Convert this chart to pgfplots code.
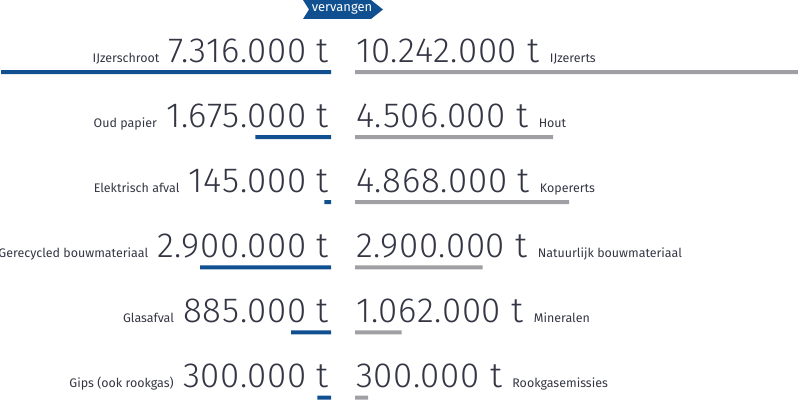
\documentclass[border=0pt]{standalone}
\usepackage{pgfplots}
\pgfplotsset{compat=1.18}
\usepackage{fontspec}
\setmainfont{Fira Sans}[UprightFont={* Light}]
\newfontfamily\bignum{Fira Sans}[UprightFont={* Light}, LetterSpace=2]
\newfontfamily\lbl{Fira Sans}
\definecolor{barBlue}{RGB}{16,80,145}
\definecolor{barGray}{RGB}{160,160,164}
\definecolor{txt}{RGB}{52,54,68}
\begin{document}
\begin{tikzpicture}[x=1bp,y=1bp]
\useasboundingbox (0,0) rectangle (798,400);
\pgfplotsset{
    every axis/.append style={
        hide axis,
        scale only axis,
        height=400bp,
        y dir=reverse,
        ymin=-0.106, ymax=6.038,
        xmin=0,
        xbar,
        bar width=4bp,
    },
}
% left: what is used (blue, growing to the left)
\begin{axis}[name=L, at={(0,0)}, anchor=south west, width=331bp, x dir=reverse, xmax=7.34]
    \addplot[draw=none, fill=barBlue] coordinates {
        (7.316,1) (1.675,2) (0.145,3) (2.900,4) (0.885,5) (0.300,6)
    };
\end{axis}
% right: what it replaces (gray, growing to the right)
\begin{axis}[name=R, at={(355bp,0)}, anchor=south west, width=443bp, xmax=10.07]
    \addplot[draw=none, fill=barGray] coordinates {
        (10.242,1) (4.506,2) (4.868,3) (2.900,4) (1.062,5) (0.300,6)
    };
\end{axis}
% text
\begin{scope}[txt]
\foreach \i/\num/\lab [evaluate=\i as \yy using {400-(72+65.1*(\i-1))+10}] in {
    1/7.316.000 t/IJzerschroot,
    2/1.675.000 t/Oud papier,
    3/145.000 t/Elektrisch afval,
    4/2.900.000 t/Gerecycled bouwmateriaal,
    5/885.000 t/Glasafval,
    6/300.000 t/Gips (ook rookgas)} {
    \node[anchor=base east, inner sep=0pt, font=\bignum\fontsize{35}{35}\selectfont] (n) at (329,\yy) {\num};
    \node[anchor=base east, inner sep=0pt, font=\lbl\fontsize{12.5}{15}\selectfont] at ([xshift=-9bp]n.base west) {\lab};
}
\foreach \i/\num/\lab [evaluate=\i as \yy using {400-(72+65.1*(\i-1))+10}] in {
    1/10.242.000 t/IJzererts,
    2/4.506.000 t/Hout,
    3/4.868.000 t/Kopererts,
    4/2.900.000 t/Natuurlijk bouwmateriaal,
    5/1.062.000 t/Mineralen,
    6/300.000 t/Rookgasemissies} {
    \node[anchor=base west, inner sep=0pt, font=\bignum\fontsize{35}{35}\selectfont] (m) at (356,\yy) {\num};
    \node[anchor=base west, inner sep=0pt, font=\lbl\fontsize{12.5}{15}\selectfont] at ([xshift=10bp]m.base east) {\lab};
}
\end{scope}
% tag
\fill[barBlue] (303,400) -- (371,400) -- (383,390.5) -- (371,381) -- (303,381) -- (309,390.5) -- cycle;
\node[white, inner sep=0pt, font=\lbl\fontsize{13}{15}\selectfont] at (342,391) {vervangen};
\end{tikzpicture}
\end{document}
